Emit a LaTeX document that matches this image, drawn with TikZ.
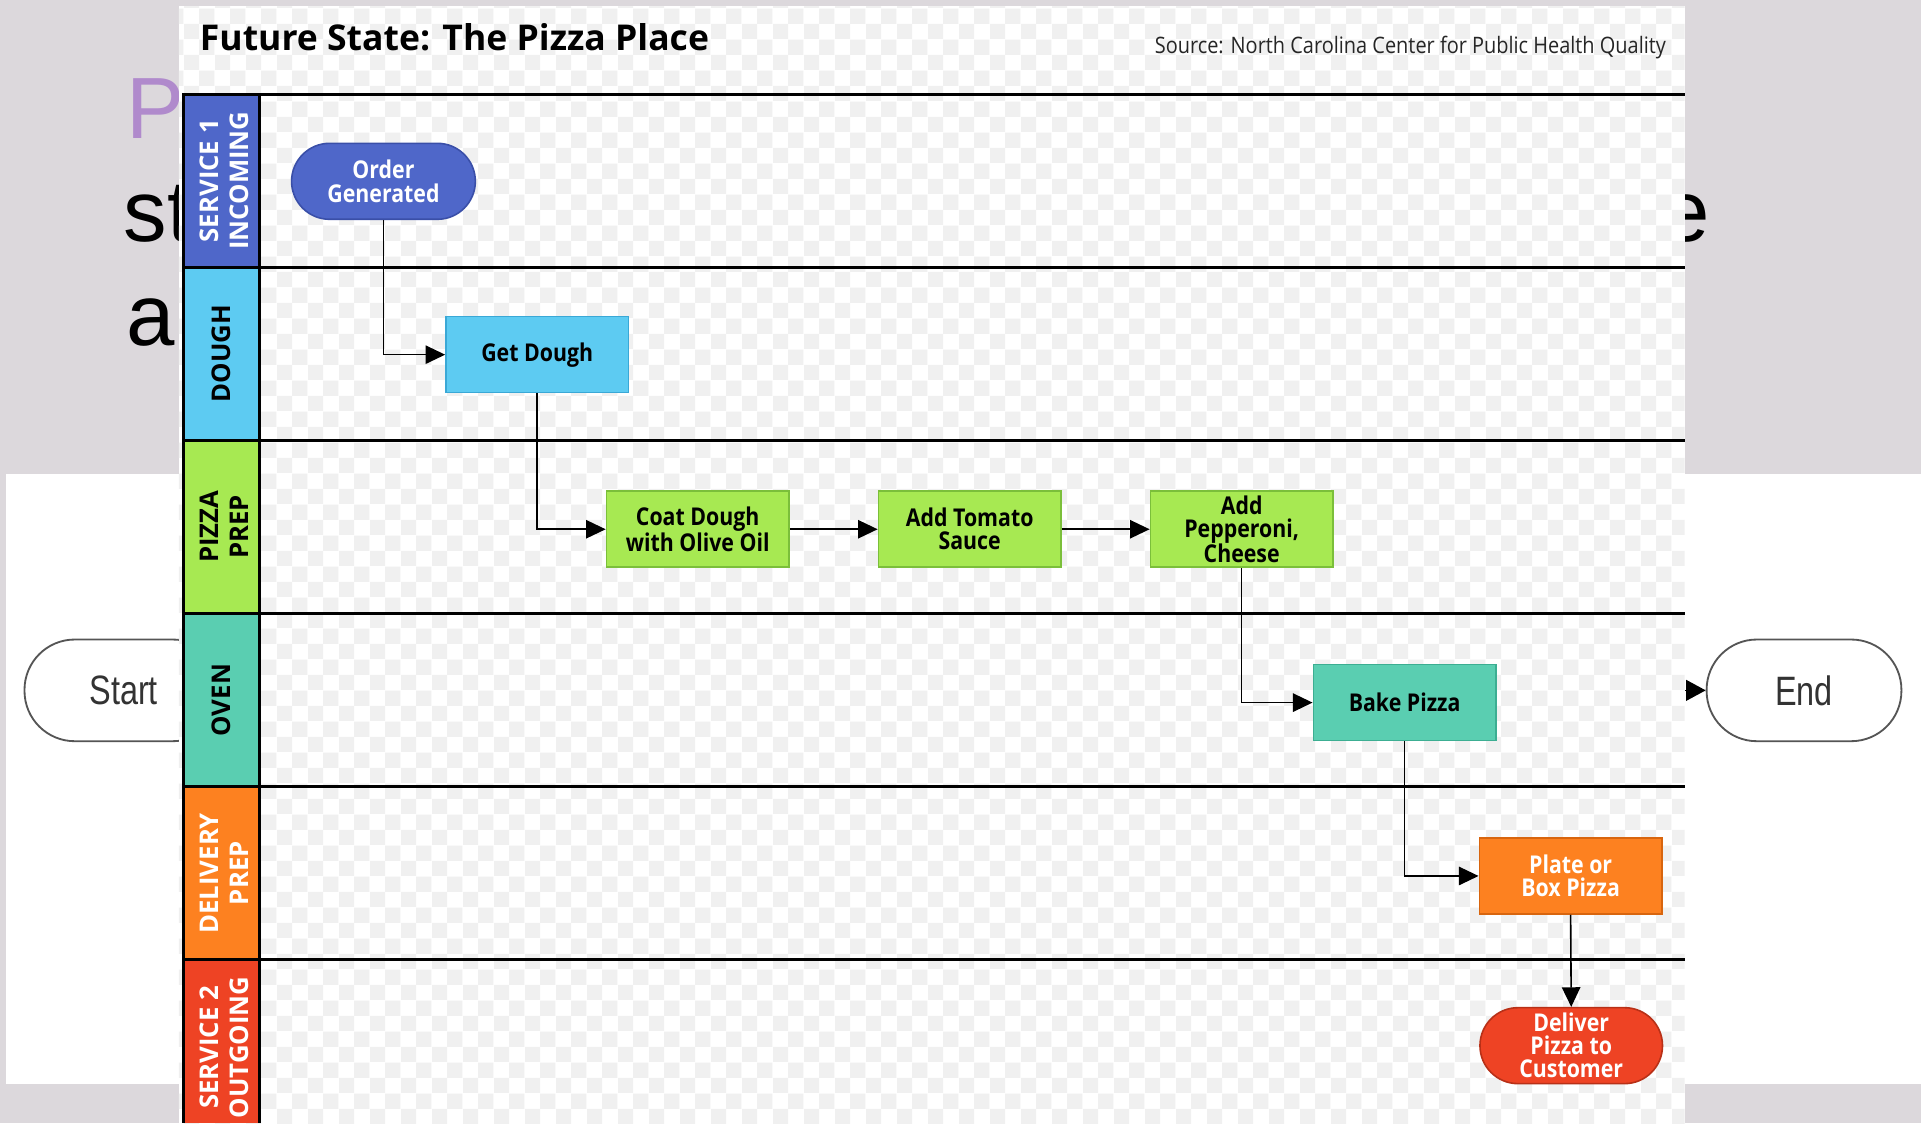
\documentclass[tikz,border=0pt]{standalone}
\usepackage{fontspec}
\usetikzlibrary{arrows.meta,patterns.meta}
\setmainfont{Open Sans}
\newfontfamily\boxfont[FakeStretch=0.87]{Open Sans}
\newfontfamily\lanefont{Open Sans}
\newfontfamily\srcfont[FakeStretch=0.88]{Open Sans}
\newfontfamily\slidefont{Liberation Sans}
\newfontfamily\termfont[FakeStretch=0.79]{Liberation Sans}

\definecolor{slidegray}{HTML}{DCD8DC}
\definecolor{slidepurple}{HTML}{B08ACC}
\definecolor{termline}{HTML}{555555}
\definecolor{termtext}{HTML}{333333}
\definecolor{checkgray}{HTML}{F0F0F0}
\definecolor{laneblue}{HTML}{4F67C9}
\definecolor{lanecyan}{HTML}{5DCBF2}
\definecolor{lanegreen}{HTML}{A7E952}
\definecolor{laneteal}{HTML}{5ACEB1}
\definecolor{laneorange}{HTML}{FD8120}
\definecolor{lanered}{HTML}{EE4324}
\definecolor{edgeblue}{HTML}{3A4FA8}
\definecolor{edgecyan}{HTML}{3AA8D6}
\definecolor{edgegreen}{HTML}{7BBF3A}
\definecolor{edgeteal}{HTML}{3CAE92}
\definecolor{edgeorange}{HTML}{D8650E}
\definecolor{edgered}{HTML}{B83017}

% faint transparency checkerboard of the pasted chart
\tikzdeclarepattern{
  name=checker,
  bounding box={(0pt,0pt) and (25pt,25pt)},
  tile size={(25pt,25pt)},
  code={
    \fill (0pt,0pt) rectangle (12.5pt,12.5pt);
    \fill (12.5pt,12.5pt) rectangle (25pt,25pt);
  }
}

\tikzset{
  procbox/.style={draw, line width=1.3pt, minimum width=149pt, minimum height=62pt,
    inner sep=0pt, align=center,
    font=\boxfont\bfseries\fontsize{20}{18.8}\selectfont},
  stadium/.style={procbox, rounded corners=31pt},
  flow/.style={-{Triangle[length=16pt,width=15pt]}, line width=1.3pt},
  lanelabel/.style={rotate=90, align=center, inner sep=0pt,
    font=\lanefont\bfseries\fontsize{21}{24}\selectfont},
  lanerule/.style={line width=2.5pt},
  terminal/.style={draw=termline, line width=1.5pt, rounded corners=41pt,
    minimum height=83pt, text=termtext,
    font=\termfont\fontsize{33.5}{36}\selectfont},
  slidetext/.style={inner sep=0pt, font=\slidefont\fontsize{71}{80}\selectfont},
}

\begin{document}
\begin{tikzpicture}[x=1pt, y=-1pt]
\useasboundingbox (0,0) rectangle (1568,917);

% slide background and white band
\fill[slidegray] (0,0) rectangle (1568,917);
\fill[white] (5,387) rectangle (1568,885);

% slide text partly hidden behind the chart
\node[slidetext, text=slidepurple, anchor=base west] (sP) at (103,113) {P};
\node[slidetext, anchor=base west] (sst) at (101,197) {st};
\node[slidetext, anchor=base west] (sa) at (103,282) {a};
\node[slidetext, anchor=base east] (se) at (1396,197) {e};

% start / end terminators
\node[terminal, minimum width=162pt] (start) at (101,563.5) {Start};
\node[terminal, minimum width=159pt] (end) at (1472.5,563.5) {End};
\coordinate (endfeed) at (1330,563.5);
\draw[line width=1.2pt, -{Triangle[length=16pt,width=17pt]}] (endfeed) -- (end.west);

% pasted chart panel
\fill[white] (146,5) rectangle (1375,917);
\fill[pattern=checker, pattern color=checkgray] (146,5) rectangle (1375,917);

\node[anchor=base west, inner sep=0pt, font=\lanefont\bfseries\fontsize{29}{32}\selectfont]
  (title) at (163,41) {Future State: The Pizza Place};
\node[anchor=base east, inner sep=0pt, text=black!85, font=\srcfont\fontsize{18.5}{21}\selectfont]
  (source) at (1360,44) {Source: North Carolina Center for Public Health Quality};

% lane header column
\fill[laneblue]   (150,77)    rectangle (212,218.3);
\fill[lanecyan]   (150,218.3) rectangle (212,359.6);
\fill[lanegreen]  (150,359.6) rectangle (212,500.9);
\fill[laneteal]   (150,500.9) rectangle (212,642.2);
\fill[laneorange] (150,642.2) rectangle (212,783.5);
\fill[lanered]    (150,783.5) rectangle (212,917);

\node[lanelabel, text=white] (l1) at (183,147.5) {SERVICE 1\\INCOMING};
\node[lanelabel] (l2) at (181,288.6) {DOUGH};
\node[lanelabel] (l3) at (183,430) {PIZZA\\PREP};
\node[lanelabel] (l4) at (181,571.5) {OVEN};
\node[lanelabel, text=white] (l5) at (183,712.8) {DELIVERY\\PREP};
\node[lanelabel, text=white] (l6) at (183,855) {SERVICE 2\\OUTGOING};

% lane rules
\foreach \yy in {77,218.3,359.6,500.9,642.2,783.5}
  \draw[lanerule] (148.75,\yy) -- (1375,\yy);
\draw[lanerule] (150,77) -- (150,917);
\draw[lanerule] (212,77) -- (212,917);

% process steps
\node[stadium, fill=laneblue, draw=edgeblue, text=white, minimum width=150pt] (order) at (313,148) {Order\\Generated};
\node[procbox, fill=lanecyan, draw=edgecyan] (dough) at (438.5,289.5) {Get Dough};
\node[procbox, fill=lanegreen, draw=edgegreen] (coat) at (569.5,432) {Coat Dough\\with Olive Oil};
\node[procbox, fill=lanegreen, draw=edgegreen] (tomato) at (791.5,432) {Add Tomato\\Sauce};
\node[procbox, fill=lanegreen, draw=edgegreen] (pep) at (1013.5,432) {Add\\Pepperoni,\\Cheese};
\node[procbox, fill=laneteal, draw=edgeteal] (bake) at (1146.5,573.5) {Bake Pizza};
\node[procbox, fill=laneorange, draw=edgeorange, text=white] (plate) at (1282,715) {Plate or\\Box Pizza};
\node[stadium, fill=lanered, draw=edgered, text=white] (deliver) at (1282.5,853.5) {Deliver\\Pizza to\\Customer};

% flow
\draw[flow] (order.south) |- (dough.west);
\draw[flow] (dough.south) |- (coat.west);
\draw[flow] (coat.east) -- (tomato.west);
\draw[flow] (tomato.east) -- (pep.west);
\draw[flow] (pep.south) |- (bake.west);
\draw[flow] (bake.south) |- (plate.west);
\draw[flow] (plate.south) -- (deliver.north);
\end{tikzpicture}
\end{document}
